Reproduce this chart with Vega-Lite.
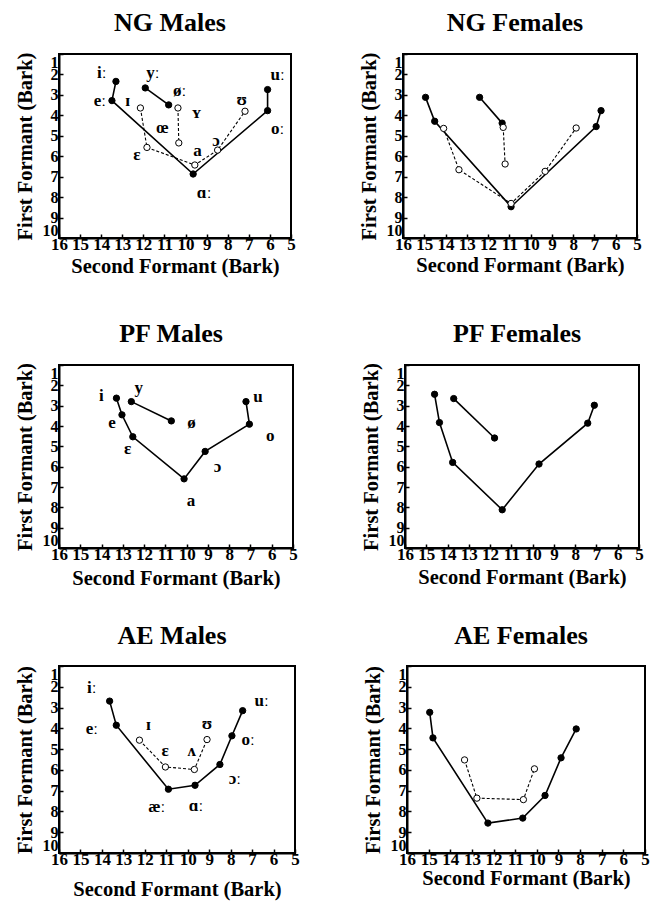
{
  "$schema": "https://vega.github.io/schema/vega-lite/v6.json",
  "padding": {"left": 14, "top": 9, "right": 2, "bottom": 0},
  "background": "white",
  "datasets": {
    "pts": [
      {"panel": "NG Males", "line": "A", "seq": 1, "F2": 13.30, "F1": 2.34, "vowel": "long"},
      {"panel": "NG Males", "line": "A", "seq": 2, "F2": 13.49, "F1": 3.28, "vowel": "long"},
      {"panel": "NG Males", "line": "A", "seq": 3, "F2": 9.64, "F1": 6.87, "vowel": "long"},
      {"panel": "NG Males", "line": "A", "seq": 4, "F2": 6.11, "F1": 3.77, "vowel": "long"},
      {"panel": "NG Males", "line": "A", "seq": 5, "F2": 6.11, "F1": 2.74, "vowel": "long"},
      {"panel": "NG Males", "line": "B", "seq": 1, "F2": 11.91, "F1": 2.66, "vowel": "long"},
      {"panel": "NG Males", "line": "B", "seq": 2, "F2": 10.80, "F1": 3.49, "vowel": "long"},
      {"panel": "NG Males", "line": "C", "seq": 1, "F2": 12.14, "F1": 3.64, "vowel": "short"},
      {"panel": "NG Males", "line": "C", "seq": 2, "F2": 11.83, "F1": 5.57, "vowel": "short"},
      {"panel": "NG Males", "line": "C", "seq": 3, "F2": 9.56, "F1": 6.43, "vowel": "short"},
      {"panel": "NG Males", "line": "C", "seq": 4, "F2": 8.48, "F1": 5.70, "vowel": "short"},
      {"panel": "NG Males", "line": "C", "seq": 5, "F2": 7.18, "F1": 3.80, "vowel": "short"},
      {"panel": "NG Males", "line": "D", "seq": 1, "F2": 10.36, "F1": 3.64, "vowel": "short"},
      {"panel": "NG Males", "line": "D", "seq": 2, "F2": 10.32, "F1": 5.35, "vowel": "short"},

      {"panel": "NG Females", "line": "A", "seq": 1, "F2": 14.94, "F1": 3.12, "vowel": "long"},
      {"panel": "NG Females", "line": "A", "seq": 2, "F2": 14.51, "F1": 4.29, "vowel": "long"},
      {"panel": "NG Females", "line": "A", "seq": 3, "F2": 10.92, "F1": 8.47, "vowel": "long"},
      {"panel": "NG Females", "line": "A", "seq": 4, "F2": 6.92, "F1": 4.55, "vowel": "long"},
      {"panel": "NG Females", "line": "A", "seq": 5, "F2": 6.69, "F1": 3.77, "vowel": "long"},
      {"panel": "NG Females", "line": "B", "seq": 1, "F2": 12.40, "F1": 3.12, "vowel": "long"},
      {"panel": "NG Females", "line": "B", "seq": 2, "F2": 11.34, "F1": 4.38, "vowel": "long"},
      {"panel": "NG Females", "line": "C", "seq": 1, "F2": 14.09, "F1": 4.64, "vowel": "short"},
      {"panel": "NG Females", "line": "C", "seq": 2, "F2": 13.37, "F1": 6.66, "vowel": "short"},
      {"panel": "NG Females", "line": "C", "seq": 3, "F2": 10.92, "F1": 8.31, "vowel": "short"},
      {"panel": "NG Females", "line": "C", "seq": 4, "F2": 9.32, "F1": 6.74, "vowel": "short"},
      {"panel": "NG Females", "line": "C", "seq": 5, "F2": 7.86, "F1": 4.62, "vowel": "short"},
      {"panel": "NG Females", "line": "D", "seq": 1, "F2": 11.29, "F1": 4.59, "vowel": "short"},
      {"panel": "NG Females", "line": "D", "seq": 2, "F2": 11.20, "F1": 6.38, "vowel": "short"},

      {"panel": "PF Males", "line": "A", "seq": 1, "F2": 13.30, "F1": 2.63, "vowel": "long"},
      {"panel": "PF Males", "line": "A", "seq": 2, "F2": 13.04, "F1": 3.45, "vowel": "long"},
      {"panel": "PF Males", "line": "A", "seq": 3, "F2": 12.53, "F1": 4.53, "vowel": "long"},
      {"panel": "PF Males", "line": "A", "seq": 4, "F2": 10.12, "F1": 6.60, "vowel": "long"},
      {"panel": "PF Males", "line": "A", "seq": 5, "F2": 9.13, "F1": 5.25, "vowel": "long"},
      {"panel": "PF Males", "line": "A", "seq": 6, "F2": 7.05, "F1": 3.91, "vowel": "long"},
      {"panel": "PF Males", "line": "A", "seq": 7, "F2": 7.21, "F1": 2.80, "vowel": "long"},
      {"panel": "PF Males", "line": "B", "seq": 1, "F2": 12.60, "F1": 2.80, "vowel": "long"},
      {"panel": "PF Males", "line": "B", "seq": 2, "F2": 10.72, "F1": 3.75, "vowel": "long"},

      {"panel": "PF Females", "line": "A", "seq": 1, "F2": 14.61, "F1": 2.44, "vowel": "long"},
      {"panel": "PF Females", "line": "A", "seq": 2, "F2": 14.38, "F1": 3.83, "vowel": "long"},
      {"panel": "PF Females", "line": "A", "seq": 3, "F2": 13.76, "F1": 5.79, "vowel": "long"},
      {"panel": "PF Females", "line": "A", "seq": 4, "F2": 11.43, "F1": 8.12, "vowel": "long"},
      {"panel": "PF Females", "line": "A", "seq": 5, "F2": 9.70, "F1": 5.87, "vowel": "long"},
      {"panel": "PF Females", "line": "A", "seq": 6, "F2": 7.41, "F1": 3.86, "vowel": "long"},
      {"panel": "PF Females", "line": "A", "seq": 7, "F2": 7.10, "F1": 2.98, "vowel": "long"},
      {"panel": "PF Females", "line": "B", "seq": 1, "F2": 13.71, "F1": 2.65, "vowel": "long"},
      {"panel": "PF Females", "line": "B", "seq": 2, "F2": 11.79, "F1": 4.59, "vowel": "long"},

      {"panel": "AE Males", "line": "A", "seq": 1, "F2": 13.64, "F1": 2.69, "vowel": "long"},
      {"panel": "AE Males", "line": "A", "seq": 2, "F2": 13.33, "F1": 3.85, "vowel": "long"},
      {"panel": "AE Males", "line": "A", "seq": 3, "F2": 10.90, "F1": 6.93, "vowel": "long"},
      {"panel": "AE Males", "line": "A", "seq": 4, "F2": 9.66, "F1": 6.74, "vowel": "long"},
      {"panel": "AE Males", "line": "A", "seq": 5, "F2": 8.50, "F1": 5.74, "vowel": "long"},
      {"panel": "AE Males", "line": "A", "seq": 6, "F2": 7.94, "F1": 4.36, "vowel": "long"},
      {"panel": "AE Males", "line": "A", "seq": 7, "F2": 7.44, "F1": 3.15, "vowel": "long"},
      {"panel": "AE Males", "line": "C", "seq": 1, "F2": 12.25, "F1": 4.57, "vowel": "short"},
      {"panel": "AE Males", "line": "C", "seq": 2, "F2": 11.04, "F1": 5.86, "vowel": "short"},
      {"panel": "AE Males", "line": "C", "seq": 3, "F2": 9.69, "F1": 5.98, "vowel": "short"},
      {"panel": "AE Males", "line": "C", "seq": 4, "F2": 9.10, "F1": 4.54, "vowel": "short"},

      {"panel": "AE Females", "line": "A", "seq": 1, "F2": 14.95, "F1": 3.23, "vowel": "long"},
      {"panel": "AE Females", "line": "A", "seq": 2, "F2": 14.80, "F1": 4.46, "vowel": "long"},
      {"panel": "AE Females", "line": "A", "seq": 3, "F2": 12.26, "F1": 8.56, "vowel": "long"},
      {"panel": "AE Females", "line": "A", "seq": 4, "F2": 10.65, "F1": 8.32, "vowel": "long"},
      {"panel": "AE Females", "line": "A", "seq": 5, "F2": 9.62, "F1": 7.23, "vowel": "long"},
      {"panel": "AE Females", "line": "A", "seq": 6, "F2": 8.88, "F1": 5.42, "vowel": "long"},
      {"panel": "AE Females", "line": "A", "seq": 7, "F2": 8.18, "F1": 4.03, "vowel": "long"},
      {"panel": "AE Females", "line": "C", "seq": 1, "F2": 13.34, "F1": 5.52, "vowel": "short"},
      {"panel": "AE Females", "line": "C", "seq": 2, "F2": 12.77, "F1": 7.36, "vowel": "short"},
      {"panel": "AE Females", "line": "C", "seq": 3, "F2": 10.62, "F1": 7.43, "vowel": "short"},
      {"panel": "AE Females", "line": "C", "seq": 4, "F2": 10.11, "F1": 5.95, "vowel": "short"}
    ],
    "labels": [
      {"panel": "NG Males", "label": "iː", "F2": 13.97, "F1": 1.95},
      {"panel": "NG Males", "label": "eː", "F2": 14.06, "F1": 3.32},
      {"panel": "NG Males", "label": "ɪ", "F2": 12.74, "F1": 3.28},
      {"panel": "NG Males", "label": "yː", "F2": 11.55, "F1": 1.95},
      {"panel": "NG Males", "label": "øː", "F2": 10.28, "F1": 2.79},
      {"panel": "NG Males", "label": "ʏ", "F2": 9.48, "F1": 3.89},
      {"panel": "NG Males", "label": "œ", "F2": 11.10, "F1": 4.62},
      {"panel": "NG Males", "label": "ɛ", "F2": 12.31, "F1": 5.92},
      {"panel": "NG Males", "label": "a", "F2": 9.43, "F1": 5.76},
      {"panel": "NG Males", "label": "ɔ", "F2": 8.56, "F1": 5.24},
      {"panel": "NG Males", "label": "ʊ", "F2": 7.34, "F1": 3.23},
      {"panel": "NG Males", "label": "ɑː", "F2": 9.12, "F1": 7.80},
      {"panel": "NG Males", "label": "uː", "F2": 5.63, "F1": 2.01},
      {"panel": "NG Males", "label": "oː", "F2": 5.63, "F1": 4.67},

      {"panel": "PF Males", "label": "i", "F2": 14.01, "F1": 2.52},
      {"panel": "PF Males", "label": "y", "F2": 12.25, "F1": 2.11},
      {"panel": "PF Males", "label": "e", "F2": 13.51, "F1": 3.83},
      {"panel": "PF Males", "label": "ɛ", "F2": 12.77, "F1": 5.13},
      {"panel": "PF Males", "label": "ø", "F2": 9.77, "F1": 3.86},
      {"panel": "PF Males", "label": "u", "F2": 6.65, "F1": 2.57},
      {"panel": "PF Males", "label": "o", "F2": 6.07, "F1": 4.51},
      {"panel": "PF Males", "label": "ɔ", "F2": 8.55, "F1": 6.03},
      {"panel": "PF Males", "label": "a", "F2": 9.80, "F1": 7.70},

      {"panel": "AE Males", "label": "iː", "F2": 14.47, "F1": 2.05},
      {"panel": "AE Males", "label": "eː", "F2": 14.47, "F1": 4.01},
      {"panel": "AE Males", "label": "ɪ", "F2": 11.83, "F1": 3.85},
      {"panel": "AE Males", "label": "ɛ", "F2": 11.05, "F1": 5.10},
      {"panel": "AE Males", "label": "ʌ", "F2": 9.81, "F1": 5.10},
      {"panel": "AE Males", "label": "ʊ", "F2": 9.10, "F1": 3.80},
      {"panel": "AE Males", "label": "uː", "F2": 6.56, "F1": 2.69},
      {"panel": "AE Males", "label": "oː", "F2": 7.18, "F1": 4.57},
      {"panel": "AE Males", "label": "ɔː", "F2": 7.80, "F1": 6.45},
      {"panel": "AE Males", "label": "æː", "F2": 11.44, "F1": 7.78},
      {"panel": "AE Males", "label": "ɑː", "F2": 9.61, "F1": 7.74}
    ]
  },
  "spacing": 41,
  "vconcat": [
    {"spacing": 61, "hconcat": [
      {
        "title": "NG Males", "width": 232, "height": 184,
        "layer": [
          {"data": {"name": "pts"}, "transform": [{"filter": "datum.panel === 'NG Males' && datum.vowel === 'long'"}],
           "mark": {"type": "line", "color": "black", "strokeWidth": 1.6},
           "encoding": {"x": {"field": "F2", "type": "quantitative", "scale": {"domain": [5, 16], "reverse": true, "nice": false, "zero": false}, "axis": {"values": [5,6,7,8,9,10,11,12,13,14,15,16], "tickCount": 12, "title": "Second Formant (Bark)", "titlePadding": 4}},
                        "y": {"field": "F1", "type": "quantitative", "scale": {"domain": [1, 10], "reverse": true, "nice": false, "zero": false}, "axis": {"values": [1,2,3,4,5,6,7,8,9,10], "tickCount": 10, "title": "First Formant (Bark)"}},
                        "detail": {"field": "line"}, "order": {"field": "seq"}}},
          {"data": {"name": "pts"}, "transform": [{"filter": "datum.panel === 'NG Males' && datum.vowel === 'short'"}],
           "mark": {"type": "line", "color": "black", "strokeWidth": 1.1, "strokeDash": [3, 2]},
           "encoding": {"x": {"field": "F2", "type": "quantitative"}, "y": {"field": "F1", "type": "quantitative"}, "detail": {"field": "line"}, "order": {"field": "seq"}}},
          {"data": {"name": "pts"}, "transform": [{"filter": "datum.panel === 'NG Males'"}],
           "mark": {"type": "point", "filled": true, "size": 40, "stroke": "black", "strokeWidth": 1, "opacity": 1},
           "encoding": {"x": {"field": "F2", "type": "quantitative"}, "y": {"field": "F1", "type": "quantitative"},
                        "fill": {"field": "vowel", "type": "nominal", "scale": {"domain": ["long", "short"], "range": ["black", "white"]}, "legend": null}}},
          {"data": {"name": "labels"}, "transform": [{"filter": "datum.panel === 'NG Males'"}],
           "mark": {"type": "text", "font": "Liberation Serif", "fontWeight": "bold", "fontSize": 17, "color": "black"},
           "encoding": {"x": {"field": "F2", "type": "quantitative"}, "y": {"field": "F1", "type": "quantitative"}, "text": {"field": "label"}}}
        ]
      },
      {
        "title": "NG Females", "width": 234, "height": 184,
        "layer": [
          {"data": {"name": "pts"}, "transform": [{"filter": "datum.panel === 'NG Females' && datum.vowel === 'long'"}],
           "mark": {"type": "line", "color": "black", "strokeWidth": 1.6},
           "encoding": {"x": {"field": "F2", "type": "quantitative", "scale": {"domain": [5, 16], "reverse": true, "nice": false, "zero": false}, "axis": {"values": [5,6,7,8,9,10,11,12,13,14,15,16], "tickCount": 12, "title": "Second Formant (Bark)", "titlePadding": 3}},
                        "y": {"field": "F1", "type": "quantitative", "scale": {"domain": [1, 10], "reverse": true, "nice": false, "zero": false}, "axis": {"values": [1,2,3,4,5,6,7,8,9,10], "tickCount": 10, "title": "First Formant (Bark)"}},
                        "detail": {"field": "line"}, "order": {"field": "seq"}}},
          {"data": {"name": "pts"}, "transform": [{"filter": "datum.panel === 'NG Females' && datum.vowel === 'short'"}],
           "mark": {"type": "line", "color": "black", "strokeWidth": 1.1, "strokeDash": [3, 2]},
           "encoding": {"x": {"field": "F2", "type": "quantitative"}, "y": {"field": "F1", "type": "quantitative"}, "detail": {"field": "line"}, "order": {"field": "seq"}}},
          {"data": {"name": "pts"}, "transform": [{"filter": "datum.panel === 'NG Females'"}],
           "mark": {"type": "point", "filled": true, "size": 40, "stroke": "black", "strokeWidth": 1, "opacity": 1},
           "encoding": {"x": {"field": "F2", "type": "quantitative"}, "y": {"field": "F1", "type": "quantitative"},
                        "fill": {"field": "vowel", "type": "nominal", "scale": {"domain": ["long", "short"], "range": ["black", "white"]}, "legend": null}}}
        ]
      }
    ]},
    {"spacing": 32, "vconcat": [
      {"spacing": 61, "hconcat": [
        {
          "title": "PF Males", "width": 234, "height": 183,
          "layer": [
            {"data": {"name": "pts"}, "transform": [{"filter": "datum.panel === 'PF Males'"}],
             "mark": {"type": "line", "color": "black", "strokeWidth": 1.6},
             "encoding": {"x": {"field": "F2", "type": "quantitative", "scale": {"domain": [5, 16], "reverse": true, "nice": false, "zero": false}, "axis": {"values": [5,6,7,8,9,10,11,12,13,14,15,16], "tickCount": 12, "title": "Second Formant (Bark)", "titlePadding": 6}},
                          "y": {"field": "F1", "type": "quantitative", "scale": {"domain": [1, 10], "reverse": true, "nice": false, "zero": false}, "axis": {"values": [1,2,3,4,5,6,7,8,9,10], "tickCount": 10, "title": "First Formant (Bark)"}},
                          "detail": {"field": "line"}, "order": {"field": "seq"}}},
            {"data": {"name": "pts"}, "transform": [{"filter": "datum.panel === 'PF Males'"}],
             "mark": {"type": "point", "filled": true, "size": 40, "stroke": "black", "strokeWidth": 1, "opacity": 1},
             "encoding": {"x": {"field": "F2", "type": "quantitative"}, "y": {"field": "F1", "type": "quantitative"},
                          "fill": {"field": "vowel", "type": "nominal", "scale": {"domain": ["long", "short"], "range": ["black", "white"]}, "legend": null}}},
            {"data": {"name": "labels"}, "transform": [{"filter": "datum.panel === 'PF Males'"}],
             "mark": {"type": "text", "font": "Liberation Serif", "fontWeight": "bold", "fontSize": 17, "color": "black"},
             "encoding": {"x": {"field": "F2", "type": "quantitative"}, "y": {"field": "F1", "type": "quantitative"}, "text": {"field": "label"}}}
          ]
        },
        {
          "title": "PF Females", "width": 234, "height": 183,
          "layer": [
            {"data": {"name": "pts"}, "transform": [{"filter": "datum.panel === 'PF Females'"}],
             "mark": {"type": "line", "color": "black", "strokeWidth": 1.6},
             "encoding": {"x": {"field": "F2", "type": "quantitative", "scale": {"domain": [5, 16], "reverse": true, "nice": false, "zero": false}, "axis": {"values": [5,6,7,8,9,10,11,12,13,14,15,16], "tickCount": 12, "title": "Second Formant (Bark)", "titlePadding": 5}},
                          "y": {"field": "F1", "type": "quantitative", "scale": {"domain": [1, 10], "reverse": true, "nice": false, "zero": false}, "axis": {"values": [1,2,3,4,5,6,7,8,9,10], "tickCount": 10, "title": "First Formant (Bark)"}},
                          "detail": {"field": "line"}, "order": {"field": "seq"}}},
            {"data": {"name": "pts"}, "transform": [{"filter": "datum.panel === 'PF Females'"}],
             "mark": {"type": "point", "filled": true, "size": 40, "stroke": "black", "strokeWidth": 1, "opacity": 1},
             "encoding": {"x": {"field": "F2", "type": "quantitative"}, "y": {"field": "F1", "type": "quantitative"},
                          "fill": {"field": "vowel", "type": "nominal", "scale": {"domain": ["long", "short"], "range": ["black", "white"]}, "legend": null}}}
          ]
        }
      ]},
      {"spacing": 61, "hconcat": [
        {
          "title": "AE Males", "width": 236, "height": 187,
          "layer": [
            {"data": {"name": "pts"}, "transform": [{"filter": "datum.panel === 'AE Males' && datum.vowel === 'long'"}],
             "mark": {"type": "line", "color": "black", "strokeWidth": 1.6},
             "encoding": {"x": {"field": "F2", "type": "quantitative", "scale": {"domain": [5, 16], "reverse": true, "nice": false, "zero": false}, "axis": {"values": [5,6,7,8,9,10,11,12,13,14,15,16], "tickCount": 12, "title": "Second Formant (Bark)", "titlePadding": 12}},
                          "y": {"field": "F1", "type": "quantitative", "scale": {"domain": [1, 10], "reverse": true, "nice": false, "zero": false}, "axis": {"values": [1,2,3,4,5,6,7,8,9,10], "tickCount": 10, "title": "First Formant (Bark)"}},
                          "detail": {"field": "line"}, "order": {"field": "seq"}}},
            {"data": {"name": "pts"}, "transform": [{"filter": "datum.panel === 'AE Males' && datum.vowel === 'short'"}],
             "mark": {"type": "line", "color": "black", "strokeWidth": 1.1, "strokeDash": [3, 2]},
             "encoding": {"x": {"field": "F2", "type": "quantitative"}, "y": {"field": "F1", "type": "quantitative"}, "detail": {"field": "line"}, "order": {"field": "seq"}}},
            {"data": {"name": "pts"}, "transform": [{"filter": "datum.panel === 'AE Males'"}],
             "mark": {"type": "point", "filled": true, "size": 40, "stroke": "black", "strokeWidth": 1, "opacity": 1},
             "encoding": {"x": {"field": "F2", "type": "quantitative"}, "y": {"field": "F1", "type": "quantitative"},
                          "fill": {"field": "vowel", "type": "nominal", "scale": {"domain": ["long", "short"], "range": ["black", "white"]}, "legend": null}}},
            {"data": {"name": "labels"}, "transform": [{"filter": "datum.panel === 'AE Males'"}],
             "mark": {"type": "text", "font": "Liberation Serif", "fontWeight": "bold", "fontSize": 17, "color": "black"},
             "encoding": {"x": {"field": "F2", "type": "quantitative"}, "y": {"field": "F1", "type": "quantitative"}, "text": {"field": "label"}}}
          ]
        },
        {
          "title": "AE Females", "width": 238, "height": 187,
          "layer": [
            {"data": {"name": "pts"}, "transform": [{"filter": "datum.panel === 'AE Females' && datum.vowel === 'long'"}],
             "mark": {"type": "line", "color": "black", "strokeWidth": 1.6},
             "encoding": {"x": {"field": "F2", "type": "quantitative", "scale": {"domain": [5, 16], "reverse": true, "nice": false, "zero": false}, "axis": {"values": [5,6,7,8,9,10,11,12,13,14,15,16], "tickCount": 12, "title": "Second Formant (Bark)", "titlePadding": 1}},
                          "y": {"field": "F1", "type": "quantitative", "scale": {"domain": [1, 10], "reverse": true, "nice": false, "zero": false}, "axis": {"values": [1,2,3,4,5,6,7,8,9,10], "tickCount": 10, "title": "First Formant (Bark)"}},
                          "detail": {"field": "line"}, "order": {"field": "seq"}}},
            {"data": {"name": "pts"}, "transform": [{"filter": "datum.panel === 'AE Females' && datum.vowel === 'short'"}],
             "mark": {"type": "line", "color": "black", "strokeWidth": 1.1, "strokeDash": [3, 2]},
             "encoding": {"x": {"field": "F2", "type": "quantitative"}, "y": {"field": "F1", "type": "quantitative"}, "detail": {"field": "line"}, "order": {"field": "seq"}}},
            {"data": {"name": "pts"}, "transform": [{"filter": "datum.panel === 'AE Females'"}],
             "mark": {"type": "point", "filled": true, "size": 40, "stroke": "black", "strokeWidth": 1, "opacity": 1},
             "encoding": {"x": {"field": "F2", "type": "quantitative"}, "y": {"field": "F1", "type": "quantitative"},
                          "fill": {"field": "vowel", "type": "nominal", "scale": {"domain": ["long", "short"], "range": ["black", "white"]}, "legend": null}}}
          ]
        }
      ]}
    ]}
  ],
  "config": {
    "font": "Liberation Serif",
    "view": {"stroke": "black", "strokeWidth": 2},
    "title": {"font": "Liberation Serif", "fontSize": 26, "fontWeight": "bold", "color": "black", "offset": 16, "dx": -5},
    "axis": {"grid": false, "domainColor": "black", "domainWidth": 2, "tickColor": "black", "tickWidth": 1.5, "tickSize": -4,
             "labelFont": "Liberation Serif", "labelFontSize": 17, "labelFontWeight": "bold", "labelColor": "black",
             "labelOverlap": false, "labelBound": false,
             "titleFont": "Liberation Serif", "titleFontSize": 20.5, "titleFontWeight": "bold", "titleColor": "black"},
    "axisY": {"labelFlush": true, "labelFontSize": 16, "labelPadding": 5, "titlePadding": 7},
    "axisX": {"labelPadding": 2, "labelFlush": false}
  }
}
